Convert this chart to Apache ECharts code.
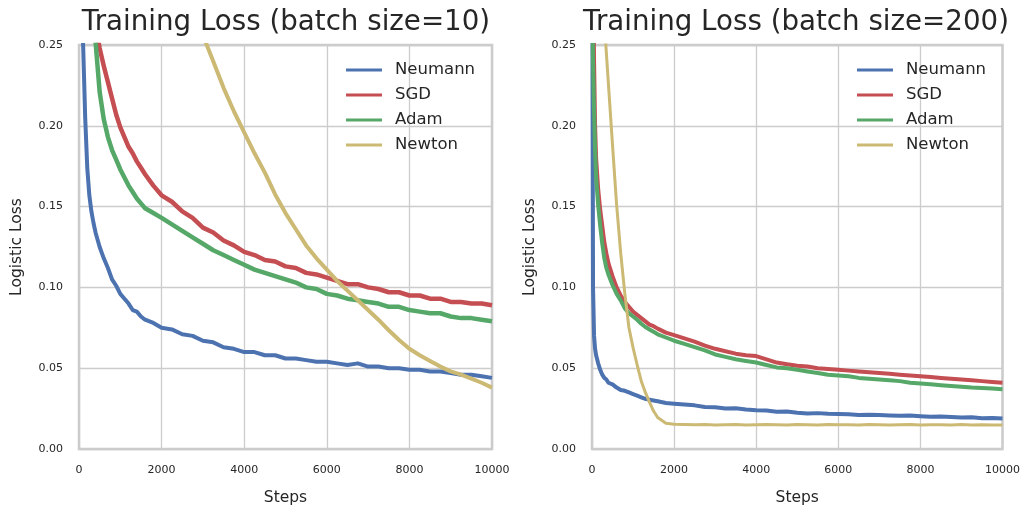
<!DOCTYPE html>
<html>
<head>
<meta charset="utf-8">
<script src="https://cdn.jsdelivr.net/npm/echarts@6/dist/echarts.min.js"></script>
<style>
html,body{margin:0;padding:0;background:#fff;}
#chart{width:1023px;height:511px;}
</style>
</head>
<body>
<div id="chart"></div>
<script>
const seriesNames = ['Neumann', 'SGD', 'Adam', 'Newton'];
const titles = ['Training Loss (batch size=10)', 'Training Loss (batch size=200)'];
const xTicks = [0, 2000, 4000, 6000, 8000, 10000];
const yTicks = [0.00, 0.05, 0.10, 0.15, 0.20, 0.25];

const steps = [0,25,50,75,100,150,200,250,300,350,400,
  500,600,700,800,900,1000,1100,1200,1300,1400,1500,1600,
  1800,2000,
  2250,2500,2750,3000,3250,3500,3750,4000,4250,4500,4750,5000,5250,5500,5750,6000,
  6250,6500,6750,7000,7250,7500,7750,8000,8250,8500,8750,9000,9250,9500,9750,10000];

// batch size = 10
const neumann10 = [0.34,0.31,0.285,0.265,0.25,0.205,0.174,0.157,0.147,0.140,0.134,
  0.125,0.118,0.112,0.105,0.101,0.096,0.093,0.090,0.086,0.085,0.082,0.080,
  0.078,0.075,
  0.074,0.071,0.070,0.067,0.066,0.063,0.062,0.060,0.060,0.058,0.058,0.056,0.056,0.055,0.054,0.054,
  0.053,0.052,0.053,0.051,0.051,0.050,0.050,0.049,0.049,0.048,0.048,0.047,0.046,0.046,0.045,0.044];
const sgd10 = [0.40,0.38,0.36,0.345,0.335,0.315,0.30,0.29,0.28,0.27,0.262,
  0.248,0.237,0.227,0.217,0.207,0.199,0.193,0.187,0.183,0.178,0.174,0.170,
  0.163,0.157,
  0.153,0.147,0.143,0.137,0.134,0.129,0.126,0.122,0.120,0.117,0.116,0.113,0.112,0.109,0.108,0.106,
  0.104,0.102,0.102,0.100,0.099,0.097,0.097,0.095,0.095,0.093,0.093,0.091,0.091,0.090,0.090,0.089];
const adam10 = [0.42,0.40,0.38,0.36,0.345,0.32,0.30,0.285,0.272,0.262,0.252,
  0.221,0.204,0.193,0.185,0.179,0.173,0.168,0.163,0.159,0.155,0.152,0.149,
  0.146,0.143,
  0.139,0.135,0.131,0.127,0.123,0.120,0.117,0.114,0.111,0.109,0.107,0.105,0.103,0.100,0.099,0.096,
  0.095,0.093,0.092,0.091,0.090,0.088,0.088,0.086,0.085,0.084,0.084,0.082,0.081,0.081,0.080,0.079];
const newton10 = [0.69,0.68,0.67,0.66,0.65,0.64,0.63,0.62,0.61,0.60,0.59,
  0.57,0.55,0.53,0.51,0.49,0.47,0.455,0.44,0.425,0.41,0.395,0.38,
  0.355,0.33,
  0.31,0.293,0.275,0.256,0.240,0.2235,0.209,0.196,0.183,0.171,0.1575,0.146,0.136,0.126,0.118,0.111,
  0.104,0.098,0.092,0.086,0.080,0.0735,0.0675,0.062,0.058,0.0545,0.051,0.048,0.046,0.0435,0.041,0.038];

// batch size = 200
const neumann200 = [0.40,0.10,0.070,0.062,0.058,0.053,0.049,0.046,0.044,0.043,0.041,
  0.040,0.038,0.0365,0.036,0.035,0.034,0.033,0.032,0.031,0.0305,0.030,0.0295,
  0.0285,0.028,
  0.0275,0.027,0.026,0.0258,0.025,0.0252,0.0245,0.024,0.0238,0.023,0.0232,0.0225,0.022,0.0222,0.0218,0.0217,
  0.0215,0.021,0.0212,0.021,0.0208,0.0205,0.0207,0.0203,0.020,0.0201,0.0198,0.0195,0.0196,0.019,0.0192,0.0188];
const sgd200 = [0.45,0.30,0.24,0.20,0.18,0.161,0.148,0.138,0.128,0.121,0.115,
  0.107,0.100,0.095,0.091,0.088,0.085,0.083,0.081,0.079,0.077,0.076,0.0745,
  0.072,0.0705,
  0.0685,0.0665,0.064,0.062,0.0605,0.059,0.058,0.0575,0.0555,0.0535,0.0525,0.0515,0.051,0.050,0.0495,0.049,
  0.0485,0.048,0.0475,0.047,0.0465,0.046,0.0455,0.045,0.0445,0.044,0.0435,0.043,0.0425,0.042,0.0415,0.041];
const adam200 = [0.30,0.24,0.21,0.185,0.168,0.151,0.138,0.127,0.118,0.112,0.108,
  0.1015,0.096,0.092,0.087,0.084,0.082,0.080,0.0775,0.0755,0.074,0.0725,0.071,
  0.069,0.067,
  0.065,0.063,0.061,0.0585,0.057,0.0555,0.0545,0.0535,0.052,0.0505,0.050,0.049,0.048,0.047,0.046,0.0455,
  0.045,0.044,0.0435,0.043,0.0425,0.042,0.041,0.0405,0.040,0.0395,0.039,0.0385,0.038,0.0378,0.0375,0.037];
const newton200 = [0.50,0.48,0.46,0.44,0.41,0.37,0.33,0.295,0.265,0.245,0.226,
  0.188,0.151,0.121,0.096,0.075,0.0627,0.052,0.042,0.035,0.029,0.0235,0.0195,
  0.016,0.0153,
  0.0151,0.015,0.0152,0.0149,0.015,0.0151,0.0149,0.015,0.0152,0.015,0.0149,0.0151,0.015,0.0149,0.0151,0.015,
  0.015,0.0149,0.0151,0.015,0.0149,0.015,0.0151,0.0149,0.015,0.015,0.0149,0.0151,0.0149,0.015,0.0149,0.0148];

const colors = ['#4C72B0', '#C44E52', '#55A868', '#CCB974'];
const panels = [[neumann10, sgd10, adam10, newton10], [neumann200, sgd200, adam200, newton200]];
const widths = [[4, 4.5, 4.5, 4], [4, 4, 4, 3]];

const FONT = 'DejaVu Sans';
const TXT = '#262626';
const grids = [
  {left: 79, right: 531, top: 45, bottom: 59},
  {left: 592, right: 19, top: 45, bottom: 59}
];
const titleCenters = [286, 796];
const legendLefts = [346, 857];

function pairs(xs, ys) { return xs.map((x, i) => [x, ys[i]]); }

const option = {
  animation: false,
  backgroundColor: '#ffffff',
  color: colors,
  title: titles.map((t, i) => ({
    text: t, left: titleCenters[i], top: 9, textAlign: 'center', padding: 0,
    textStyle: {fontFamily: FONT, fontSize: 27.7, fontWeight: 'normal', color: TXT}
  })),
  grid: grids.map(g => Object.assign({show: true, borderColor: '#cccccc', borderWidth: 2.5, backgroundColor: '#ffffff'}, g)),
  legend: legendLefts.map(l => ({
    data: seriesNames, orient: 'vertical', left: l, top: 60, padding: 0,
    icon: 'rect', itemWidth: 36, itemHeight: 3, itemGap: 5,
    textStyle: {fontFamily: FONT, fontSize: 16.5, color: TXT, lineHeight: 20, padding: [0, 0, 0, 8]}
  })),
  xAxis: grids.map((g, i) => ({
    type: 'value', gridIndex: i, min: xTicks[0], max: xTicks[xTicks.length - 1], interval: xTicks[1] - xTicks[0],
    name: 'Steps', nameLocation: 'middle', nameGap: 41,
    nameTextStyle: {fontFamily: FONT, fontSize: 15.5, color: TXT},
    axisLine: {show: false}, axisTick: {show: false},
    axisLabel: {fontFamily: FONT, fontSize: 11, color: TXT, margin: 16, formatter: v => String(v)},
    splitLine: {show: true, lineStyle: {color: '#cccccc', width: 1.3}}
  })),
  yAxis: grids.map((g, i) => ({
    type: 'value', gridIndex: i, min: yTicks[0], max: yTicks[yTicks.length - 1], interval: yTicks[1] - yTicks[0],
    name: 'Logistic Loss', nameLocation: 'middle', nameGap: 54, nameRotate: 90,
    nameTextStyle: {fontFamily: FONT, fontSize: 15.5, color: TXT},
    axisLine: {show: false}, axisTick: {show: false},
    axisLabel: {fontFamily: FONT, fontSize: 11, color: TXT, margin: 16, formatter: v => v.toFixed(2)},
    splitLine: {show: true, lineStyle: {color: '#cccccc', width: 1.3}}
  })),
  series: []
};

panels.forEach((arrs, gi) => {
  arrs.forEach((ys, si) => {
    option.series.push({
      type: 'line', name: seriesNames[si], xAxisIndex: gi, yAxisIndex: gi,
      data: pairs(steps, ys), showSymbol: false, symbol: 'none', clip: true,
      lineStyle: {width: widths[gi][si], color: colors[si], join: 'round'}, itemStyle: {color: colors[si]},
      z: 2 + si
    });
  });
});

const chart = echarts.init(document.getElementById('chart'), null, {renderer: 'canvas'});
chart.setOption(option);
</script>
</body>
</html>
